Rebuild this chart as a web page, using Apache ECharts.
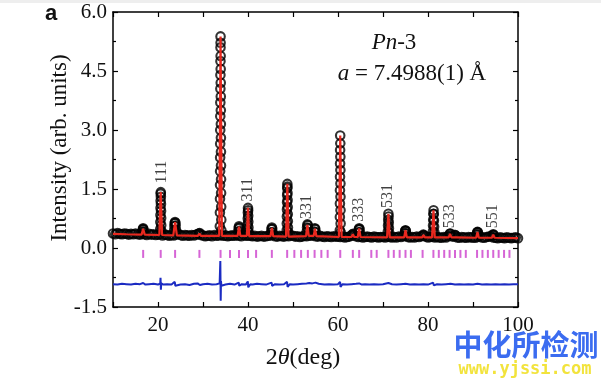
<!DOCTYPE html>
<html>
<head>
<meta charset="utf-8">
<script src="https://cdn.jsdelivr.net/npm/echarts@6/dist/echarts.min.js"></script>
<style>html,body{margin:0;padding:0;background:#fff}#c{width:601px;height:380px}</style>
</head>
<body>
<div id="c"></div>
<script>
// ---------- data ----------
// observed background: 2theta from 10 to 100 in 0.5 deg steps
var baseStart = 10, baseStep = 0.5;
var observedBase = [
0.37,0.35,0.38,0.36,0.35,0.37,0.36,0.34,0.36,0.35,0.37,0.35,0.34,0.36,0.35,0.33,0.36,0.34,0.35,0.33,
0.34,0.35,0.32,0.34,0.33,0.31,0.33,0.32,0.34,0.36,0.33,0.31,0.33,0.32,0.31,0.33,0.32,0.34,0.36,0.33,
0.32,0.30,0.31,0.32,0.30,0.33,0.31,0.32,0.33,0.31,0.32,0.30,0.31,0.32,0.31,0.33,0.31,0.30,0.33,0.31,
0.32,0.31,0.30,0.31,0.29,0.30,0.31,0.29,0.30,0.31,0.32,0.33,0.30,0.29,0.31,0.30,0.29,0.31,0.30,0.32,
0.31,0.29,0.30,0.28,0.29,0.31,0.30,0.32,0.31,0.33,0.30,0.29,0.31,0.29,0.28,0.30,0.29,0.28,0.30,0.29,
0.29,0.28,0.29,0.27,0.28,0.29,0.31,0.33,0.30,0.28,0.29,0.27,0.28,0.29,0.28,0.27,0.29,0.28,0.27,0.28,
0.28,0.27,0.29,0.28,0.27,0.28,0.27,0.29,0.28,0.30,0.31,0.28,0.27,0.28,0.27,0.29,0.28,0.30,0.31,0.29,
0.27,0.28,0.29,0.27,0.28,0.27,0.26,0.28,0.27,0.30,0.31,0.29,0.30,0.27,0.26,0.28,0.27,0.26,0.28,0.27,
0.27,0.26,0.28,0.30,0.27,0.26,0.28,0.29,0.30,0.27,0.26,0.25,0.27,0.26,0.25,0.27,0.26,0.25,0.26,0.27,
0.25
];
// observed points on the Bragg peaks [2theta, intensity]
var observedPeaks = [
[16.6,0.42],[16.65,0.48],[16.7,0.50],[16.75,0.47],[16.8,0.41],
[20.50,0.48],[20.52,0.66],[20.54,0.84],[20.56,1.02],[20.58,1.20],[20.60,1.38],[20.62,1.42],
[20.64,1.30],[20.66,1.12],[20.68,0.94],[20.70,0.76],[20.72,0.58],[20.76,0.43],
[23.6,0.45],[23.65,0.56],[23.7,0.63],[23.78,0.66],[23.86,0.64],[23.92,0.57],[24.0,0.46],
[29.15,0.37],[29.25,0.38],
[33.74,0.55],[33.76,0.90],[33.78,1.25],[33.79,1.60],[33.80,1.95],[33.81,2.30],[33.82,2.65],[33.83,3.00],
[33.84,3.35],[33.85,3.70],[33.86,4.05],[33.87,4.40],[33.88,4.75],[33.89,5.10],[33.90,5.38],
[33.91,5.22],[33.92,4.88],[33.93,4.55],[33.94,4.20],[33.95,3.85],[33.96,3.50],[33.97,3.15],[33.98,2.80],
[33.99,2.45],[34.00,2.10],[34.01,1.75],[34.02,1.40],[34.04,1.05],[34.06,0.72],[34.08,0.45],
[37.85,0.42],[37.92,0.50],[38.0,0.55],[38.08,0.52],[38.15,0.43],
[39.90,0.45],[39.93,0.60],[39.95,0.75],[39.97,0.90],[40.00,1.02],[40.03,0.96],[40.05,0.82],[40.07,0.67],[40.10,0.52],[40.15,0.40],
[45.15,0.40],[45.22,0.48],[45.30,0.52],[45.38,0.49],[45.45,0.40],
[48.60,0.45],[48.62,0.62],[48.64,0.80],[48.66,0.98],[48.68,1.16],[48.70,1.34],[48.72,1.52],[48.74,1.63],
[48.76,1.56],[48.78,1.40],[48.80,1.22],[48.82,1.04],[48.84,0.86],[48.86,0.68],[48.88,0.52],[48.92,0.40],
[53.05,0.42],[53.12,0.52],[53.20,0.60],[53.28,0.58],[53.36,0.50],
[54.75,0.42],[54.85,0.50],[54.95,0.48],[55.05,0.40],
[60.40,0.45],[60.42,0.79],[60.43,1.13],[60.44,1.47],[60.45,1.81],[60.46,2.15],[60.47,2.49],[60.49,2.86],
[60.51,2.66],[60.52,2.32],[60.53,1.98],[60.54,1.64],[60.55,1.30],[60.56,0.96],[60.58,0.62],[60.61,0.40],
[63.25,0.35],[63.35,0.36],
[64.55,0.40],[64.62,0.47],[64.70,0.50],[64.78,0.48],[64.86,0.40],
[71.08,0.42],[71.12,0.57],[71.16,0.72],[71.20,0.87],[71.24,0.80],[71.28,0.65],[71.32,0.50],[71.38,0.38],
[74.85,0.38],[74.93,0.44],[75.00,0.45],[75.08,0.43],[75.15,0.37],
[78.95,0.34],[79.05,0.33],
[81.08,0.42],[81.12,0.57],[81.16,0.72],[81.20,0.87],[81.24,0.96],[81.28,0.86],[81.32,0.70],[81.36,0.54],[81.42,0.40],
[84.85,0.36],[84.95,0.37],[85.95,0.33],[86.05,0.33],
[90.85,0.35],[90.93,0.40],[91.00,0.41],[91.08,0.40],[91.15,0.34],
[94.40,0.33],[94.50,0.35],[94.60,0.33]
];
// calculated profile [2theta, intensity]
var calculated = [
[10,0.36],[13,0.35],[16.35,0.34],[16.7,0.49],[17.05,0.34],[20.3,0.33],[20.6,1.42],[20.9,0.33],
[23.4,0.32],[23.8,0.66],[24.2,0.32],[28.9,0.31],[29.2,0.37],[29.5,0.31],[33.6,0.31],[33.9,5.38],[34.2,0.31],
[37.7,0.31],[38.0,0.54],[38.3,0.31],[39.75,0.31],[40.0,1.02],[40.25,0.30],[45.0,0.30],[45.3,0.51],[45.6,0.30],
[48.45,0.29],[48.74,1.63],[49.0,0.29],[52.9,0.30],[53.2,0.59],[53.5,0.31],[54.6,0.31],[54.9,0.49],[55.2,0.30],
[60.2,0.28],[60.5,2.86],[60.8,0.28],[63.0,0.28],[63.3,0.35],[63.6,0.28],[64.4,0.28],[64.7,0.50],[65.0,0.28],
[70.9,0.27],[71.2,0.87],[71.5,0.27],[74.7,0.27],[75.0,0.45],[75.3,0.27],[78.7,0.27],[79.0,0.33],[79.3,0.27],
[80.9,0.27],[81.22,0.96],[81.5,0.27],[84.6,0.27],[84.9,0.36],[85.2,0.27],[85.7,0.27],[86.0,0.32],[86.3,0.27],
[90.7,0.26],[91.0,0.41],[91.3,0.26],[94.2,0.26],[94.5,0.34],[94.8,0.26],[100,0.25]
];
// difference curve (offset) [2theta, value]
var difference = [
[10,-0.92],[11,-0.93],[12,-0.91],[13,-0.92],[14,-0.93],[15,-0.91],[16,-0.92],[16.7,-0.89],[17.2,-0.93],[18,-0.92],
[19,-0.91],[20,-0.93],[20.5,-0.90],[20.56,-0.76],[20.64,-1.06],[20.72,-0.90],[21.2,-0.93],[22,-0.92],[23,-0.93],
[23.72,-0.86],[23.86,-0.96],[24.3,-0.92],[25,-0.93],[26,-0.92],[27,-0.94],[28,-0.91],[28.8,-0.90],[29.3,-0.94],
[30,-0.92],[31,-0.91],[32,-0.93],[33,-0.92],[33.7,-0.90],[33.85,-0.33],[33.93,-1.34],[34.0,-0.84],[34.08,-0.96],
[34.4,-0.92],[35,-0.93],[36,-0.91],[37,-0.93],[37.95,-0.88],[38.06,-0.96],[38.6,-0.92],[39.5,-0.93],[39.96,-0.85],
[40.06,-1.00],[40.5,-0.92],[41,-0.93],[42,-0.91],[43,-0.92],[44,-0.93],[45.25,-0.88],[45.36,-0.96],[46,-0.92],
[47,-0.93],[48,-0.92],[48.68,-0.86],[48.8,-0.99],[49.3,-0.92],[50,-0.93],[51,-0.92],[52,-0.91],[53,-0.90],
[53.6,-0.89],[54.3,-0.90],[55,-0.88],[55.7,-0.91],[56.5,-0.92],[57,-0.93],[58,-0.92],[59,-0.93],[60,-0.92],
[60.46,-0.86],[60.56,-0.99],[61,-0.92],[62,-0.93],[63,-0.92],[64,-0.91],[64.7,-0.90],[65.3,-0.93],[66,-0.92],
[67,-0.93],[68,-0.92],[69,-0.93],[70,-0.92],[71.2,-0.89],[71.4,-0.94],[72,-0.92],[73,-0.93],[74,-0.92],[75,-0.91],
[76,-0.93],[77,-0.92],[78,-0.93],[79,-0.92],[80,-0.93],[81.15,-0.88],[81.28,-0.95],[82,-0.92],[83,-0.93],[84,-0.92],
[85,-0.91],[86,-0.93],[87,-0.92],[88,-0.93],[89,-0.92],[90,-0.93],[91,-0.91],[92,-0.93],[93,-0.92],[94,-0.93],
[95,-0.92],[96,-0.93],[97,-0.92],[98,-0.93],[99,-0.92],[100,-0.92]
];
// Bragg reflection positions (2theta)
var braggPositions = [16.7,20.6,23.8,29.2,33.9,36.0,38.0,40.0,41.8,45.3,48.7,50.3,51.8,53.3,54.8,56.3,57.7,
60.5,63.3,64.7,67.4,68.6,71.2,72.4,73.7,75.0,76.2,78.8,81.2,82.4,83.6,84.8,86.0,87.2,88.4,
90.9,92.1,93.3,94.5,95.7,96.9,98.1];
var braggLevel = -0.15;
// hkl labels
var hklLabels = ['111','311','331','333','531','533','551'];
var hklX = [20.9,40.0,53.1,64.7,71.1,84.9,94.4];
var hklY = [1.93,1.48,1.04,0.97,1.32,0.81,0.81];
// axis tick labels
var xTickLabels = [20,40,60,80,100];
var yMin = -1.5, yMax = 6.0, yStep = 1.5;
var xMin = 10, xMax = 100, xStep = 10;

// ---------- build ----------
var observed = observedBase.map(function(v,i){return [baseStart + i*baseStep, v];}).concat(observedPeaks);
var bragg = braggPositions.map(function(x){return [x, braggLevel];});
var hkl = hklLabels.map(function(t,i){return {name:t, value:[hklX[i], hklY[i]]};});

var serif = 'Liberation Serif';
var chart = echarts.init(document.getElementById('c'), null, {renderer:'canvas'});
var axisCommon = {
  axisLine:{show:true, onZero:false, lineStyle:{color:'#000', width:1.5}},
  splitLine:{show:false}
};
chart.setOption({
  animation:false,
  backgroundColor:'#fff',
  grid:{left:113, right:83, top:12, bottom:73, containLabel:false},
  xAxis:[
    Object.assign({type:'value', min:xMin, max:xMax, interval:xStep, position:'bottom',
      axisTick:{inside:true, length:5, lineStyle:{color:'#000', width:1.2}},
      axisLabel:{margin:8, fontFamily:serif, fontSize:21, color:'#111',
        formatter:function(v){return xTickLabels.indexOf(v) >= 0 ? String(v) : '';}}
    }, axisCommon),
    Object.assign({type:'value', min:xMin, max:xMax, interval:xStep, position:'top',
      axisTick:{inside:true, length:5, lineStyle:{color:'#000', width:1.2}},
      axisLabel:{show:false}}, axisCommon)
  ],
  yAxis:[
    Object.assign({type:'value', min:yMin, max:yMax, interval:yStep, position:'left',
      axisTick:{inside:true, length:5, lineStyle:{color:'#000', width:1.2}},
      minorTick:{show:true, splitNumber:2, length:3, lineStyle:{color:'#000', width:1.2}},
      axisLabel:{margin:6, fontFamily:serif, fontSize:21, color:'#111',
        formatter:function(v){return v.toFixed(1);}}
    }, axisCommon),
    Object.assign({type:'value', min:yMin, max:yMax, interval:yStep, position:'right',
      axisTick:{inside:true, length:5, lineStyle:{color:'#000', width:1.2}},
      minorTick:{show:true, splitNumber:2, length:3, lineStyle:{color:'#000', width:1.2}},
      axisLabel:{show:false}}, axisCommon)
  ],
  series:[
    {type:'scatter', name:'obs', data:observed, symbol:'circle', symbolSize:8.5, progressive:0,
      itemStyle:{color:'rgba(255,255,255,0)', borderColor:'#000', borderWidth:2.1}, z:2, silent:true},
    {type:'line', name:'calc', data:calculated, showSymbol:false, symbol:'none',
      lineStyle:{color:'#e8281e', width:2.2}, z:4, silent:true},
    {type:'line', name:'diff', data:difference, showSymbol:false, symbol:'none',
      lineStyle:{color:'#1b2bc2', width:2}, z:3, silent:true},
    {type:'scatter', name:'bragg', data:bragg, symbol:'rect', symbolSize:[2,8], progressive:0,
      itemStyle:{color:'#cc3fcc'}, z:3, silent:true},
    {type:'scatter', name:'hkl', data:hkl, symbolSize:0, silent:true, z:5,
      label:{show:true, position:'inside', rotate:90, formatter:'{b}', fontFamily:serif, fontSize:16, color:'#111'}}
  ],
  graphic:[
    {type:'rect', shape:{x:0,y:0,width:601,height:3}, style:{fill:'#eeeeee'}, silent:true},
    {type:'text', x:51, y:14, style:{text:'a', font:'bold 22px "Liberation Sans"', fill:'#111', align:'center', verticalAlign:'middle'}},
    {type:'text', x:394, y:43, style:{text:'{i|Pn}-3', font:'23px "Liberation Serif"', fill:'#111', align:'center', verticalAlign:'middle',
      rich:{i:{fontStyle:'italic', fontFamily:serif, fontSize:23}}}},
    {type:'text', x:412, y:74, style:{text:'{i|a} = 7.4988(1) Å', font:'23px "Liberation Serif"', fill:'#111', align:'center', verticalAlign:'middle',
      rich:{i:{fontStyle:'italic', fontFamily:serif, fontSize:23}}}},
    {type:'text', x:303, y:358, style:{text:'2{i|θ}(deg)', font:'24px "Liberation Serif"', fill:'#111', align:'center', verticalAlign:'middle',
      rich:{i:{fontStyle:'italic', fontFamily:serif, fontSize:24}}}},
    {type:'text', x:60, y:148, rotation:Math.PI/2, style:{text:'Intensity (arb. units)', font:'23px "Liberation Serif"', fill:'#111', align:'center', verticalAlign:'middle'}},
    {type:'text', x:526, y:345, style:{text:'中化所检测', font:'bold 29px "Noto Sans CJK SC"', fill:'#3b6cf0', align:'center', verticalAlign:'middle'}},
    {type:'text', x:525, y:370, style:{text:'www.yjssi.com', font:'bold 17px "DejaVu Sans Mono"', fill:'#f2e33c', align:'center', verticalAlign:'middle'}}
  ]
});
</script>
</body>
</html>
